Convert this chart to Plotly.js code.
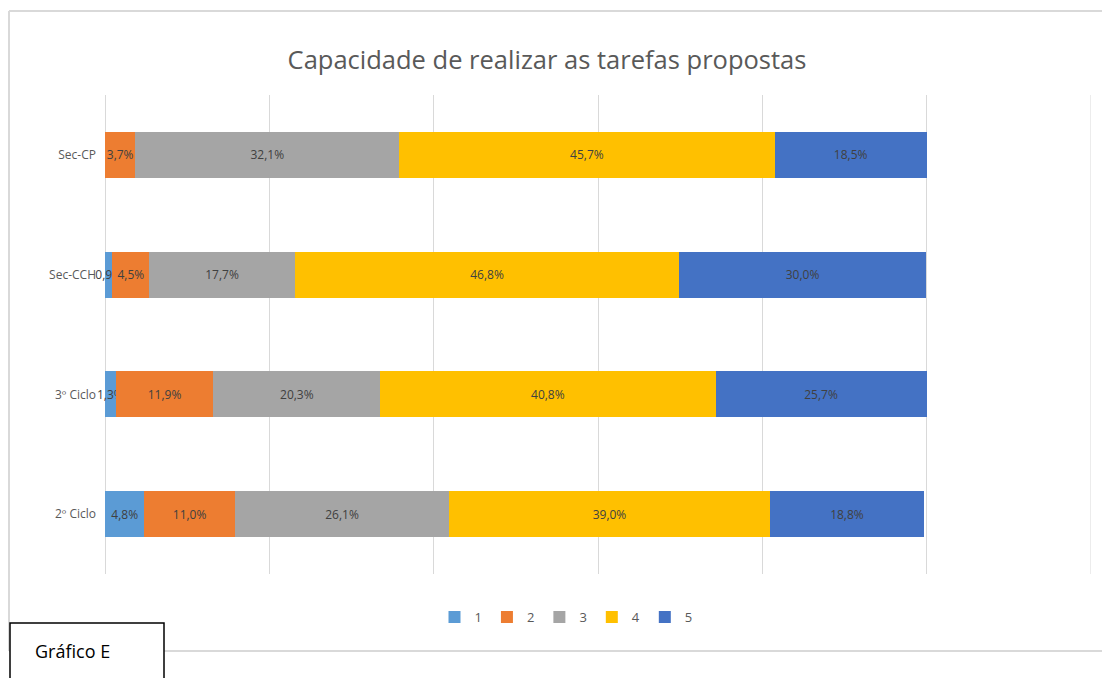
<!DOCTYPE html>
<html>
<head>
<meta charset="utf-8">
<script src="https://cdn.plot.ly/plotly-3.0.1.min.js"></script>
<style>html,body{margin:0;padding:0;background:#fff;}#chart{width:1102px;height:678px;}</style>
</head>
<body>
<div id="chart"></div>
<script>
const categories = ['2º Ciclo', '3º Ciclo', 'Sec-CCH', 'Sec-CP'];
const seriesNames = ['1', '2', '3', '4', '5'];
const s1 = [4.8, 1.3, 0.9, 0.0];
const s2 = [11.0, 11.9, 4.5, 3.7];
const s3 = [26.1, 20.3, 17.7, 32.1];
const s4 = [39.0, 40.8, 46.8, 45.7];
const s5 = [18.8, 25.7, 30.0, 18.5];
const colors = ['#5B9BD5', '#ED7D31', '#A5A5A5', '#FFC000', '#4472C4'];
const allSeries = [s1, s2, s3, s4, s5];

const W = 1102, H = 678;
const L = 105, R = 11, T = 95, B = 104;
const pw = W - L - R, ph = H - T - B;
const px = x => (x - L) / pw;
const py = y => (H - B - y) / ph;

function fmt(v) { return v.toFixed(1).replace('.', ',') + '%'; }

const traces = allSeries.map((vals, i) => ({
  type: 'bar',
  orientation: 'h',
  name: seriesNames[i],
  y: categories,
  x: vals,
  marker: { color: colors[i] },
  text: vals.map(v => v > 0 ? fmt(v) : ''),
  textposition: 'inside',
  insidetextanchor: 'middle',
  textangle: 0,
  constraintext: 'none',
  cliponaxis: false,
  textfont: { family: 'Open Sans, sans-serif', size: 12, color: '#404040' },
  hoverinfo: 'skip'
}));

const layout = {
  width: W, height: H,
  margin: { l: L, r: R, t: T, b: B },
  barmode: 'stack',
  bargap: 0.615,
  paper_bgcolor: '#ffffff',
  plot_bgcolor: '#ffffff',
  uniformtext: { minsize: 12, mode: 'show' },
  title: {
    text: 'Capacidade de realizar as tarefas propostas',
    x: px(547), xref: 'paper', xanchor: 'center',
    y: 1 - 60 / H, yanchor: 'middle',
    font: { family: 'Open Sans, sans-serif', size: 25.5, color: '#595959' }
  },
  xaxis: {
    range: [0, 120], dtick: 20, showticklabels: false,
    showgrid: true, gridcolor: '#d9d9d9', gridwidth: 1,
    zeroline: true, zerolinecolor: '#d9d9d9', zerolinewidth: 1,
    showline: false, fixedrange: true
  },
  yaxis: {
    categoryorder: 'array', categoryarray: categories,
    tickfont: { family: 'Open Sans, sans-serif', size: 12, color: '#595959' },
    ticks: '', ticklen: 0, showgrid: false, zeroline: false, showline: false,
    ticklabelstandoff: 8,
    automargin: false
  },
  showlegend: true,
  legend: {
    orientation: 'h', x: px(566), xanchor: 'center', y: py(617), yanchor: 'middle',
    font: { family: 'Open Sans, sans-serif', size: 13, color: '#595959' },
    traceorder: 'normal', itemwidth: 30
  },
  shapes: [
    { type: 'line', xref: 'x', yref: 'paper', x0: 120, x1: 120, y0: 0, y1: 1, layer: 'below', line: { color: '#d9d9d9', width: 1 } },
    { type: 'line', xref: 'paper', yref: 'paper', x0: px(9), x1: px(1102), y0: py(11), y1: py(11), line: { color: '#d9d9d9', width: 2 } },
    { type: 'line', xref: 'paper', yref: 'paper', x0: px(9), x1: px(9), y0: py(11), y1: py(651), line: { color: '#d9d9d9', width: 2 } },
    { type: 'line', xref: 'paper', yref: 'paper', x0: px(9), x1: px(1102), y0: py(651), y1: py(651), line: { color: '#d9d9d9', width: 2 } },
    { type: 'rect', xref: 'paper', yref: 'paper', x0: px(10), x1: px(164), y0: py(623), y1: py(679), line: { color: '#000000', width: 1.5 }, fillcolor: '#ffffff' }
  ],
  annotations: [
    { xref: 'paper', yref: 'paper', x: px(33), y: py(651), xanchor: 'left', yanchor: 'middle', showarrow: false,
      text: 'Gráfico E', font: { family: 'Open Sans, sans-serif', size: 18, color: '#000000' } }
  ]
};

Plotly.newPlot('chart', traces, layout, { displayModeBar: false, staticPlot: true });
</script>
</body>
</html>
